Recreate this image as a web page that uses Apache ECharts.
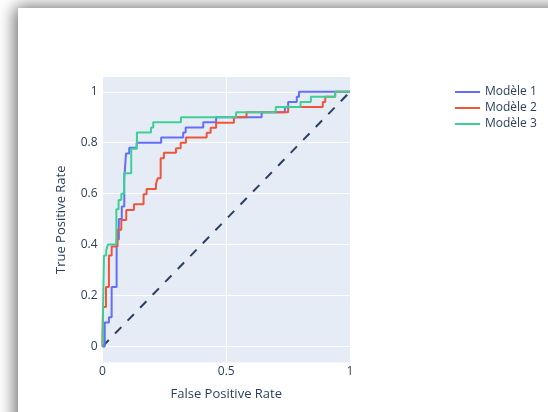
<!DOCTYPE html>
<html>
<head>
<meta charset="utf-8">
<script src="https://cdn.jsdelivr.net/npm/echarts@6/dist/echarts.min.js"></script>
<style>
html,body{margin:0;padding:0;width:548px;height:412px;overflow:hidden;background:#ffffff;}
#card{position:absolute;left:18px;top:8px;width:560px;height:440px;background:#fff;box-shadow:-3px -1px 16px rgba(0,0,0,0.6);}
#chart{position:absolute;left:0;top:0;width:548px;height:412px;}
</style>
</head>
<body>
<div id="card"></div>
<div id="chart"></div>
<script>
const seriesNames = ['Modèle 1', 'Modèle 2', 'Modèle 3'];
const xTicks = [0, 0.5, 1];
const yTicks = [0, 0.2, 0.4, 0.6, 0.8, 1];

const fpr1 = [0,0.009,0.009,0.026,0.026,0.037,0.037,0.057,0.057,0.066,0.066,0.078,0.078,0.088,0.088,0.095,0.095,0.108,0.108,0.138,0.138,0.237,0.237,0.326,0.326,0.336,0.336,0.407,0.407,0.459,0.459,0.643,0.643,0.737,0.737,0.75,0.75,0.785,0.785,0.794,0.794,1];
const tpr1 = [0,0,0.094,0.094,0.115,0.115,0.233,0.233,0.42,0.42,0.50,0.50,0.55,0.55,0.66,0.66,0.758,0.758,0.78,0.78,0.80,0.80,0.82,0.82,0.84,0.84,0.86,0.86,0.88,0.88,0.90,0.90,0.92,0.92,0.94,0.94,0.96,0.96,0.98,0.98,1,1];

const fpr2 = [0,0.002,0.002,0.014,0.014,0.026,0.026,0.037,0.037,0.061,0.061,0.076,0.076,0.096,0.096,0.127,0.127,0.166,0.166,0.178,0.178,0.216,0.216,0.223,0.223,0.235,0.235,0.248,0.248,0.297,0.297,0.316,0.316,0.337,0.337,0.421,0.421,0.437,0.437,0.459,0.459,0.531,0.531,0.582,0.582,0.75,0.75,0.89,0.89,0.90,0.90,0.94,0.94,1];
const tpr2 = [0,0,0.155,0.155,0.233,0.233,0.357,0.357,0.392,0.392,0.458,0.458,0.497,0.497,0.536,0.536,0.558,0.558,0.598,0.598,0.618,0.618,0.638,0.638,0.66,0.66,0.739,0.739,0.761,0.761,0.778,0.778,0.80,0.80,0.82,0.82,0.839,0.839,0.859,0.859,0.878,0.878,0.90,0.90,0.92,0.92,0.94,0.94,0.96,0.96,0.98,0.98,1,1];

const fpr3 = [0,0,0.006,0.006,0.015,0.015,0.022,0.022,0.056,0.056,0.065,0.065,0.076,0.076,0.087,0.087,0.116,0.116,0.139,0.139,0.196,0.196,0.205,0.205,0.317,0.317,0.54,0.54,0.70,0.70,0.80,0.80,0.842,0.842,0.94,0.94,1];
const tpr3 = [0,0.04,0.04,0.357,0.357,0.378,0.378,0.40,0.40,0.539,0.539,0.575,0.575,0.60,0.60,0.68,0.68,0.776,0.776,0.84,0.84,0.86,0.86,0.88,0.88,0.90,0.90,0.92,0.92,0.94,0.94,0.96,0.96,0.98,0.98,1,1];

const diagX = [0, 1];
const diagY = [0, 1];

const zip = (a, b) => a.map((v, i) => [v, b[i]]);
const colors = ['#636efa', '#EF553B', '#3fcf95'];
const font = 'Open Sans, Noto Sans, sans-serif';
const txt = '#2a3f5f';

const chart = echarts.init(document.getElementById('chart'), null, {renderer: 'canvas'});
chart.setOption({
  backgroundColor: 'transparent',
  animation: false,
  textStyle: {fontFamily: font, color: txt},
  grid: {left: 102.5, right: 198, top: 77, bottom: 49.5, show: true, backgroundColor: '#E5ECF6', borderWidth: 0, containLabel: false},
  legend: {
    orient: 'vertical', left: 454, top: 85, padding: 0,
    itemWidth: 25, itemHeight: 14, itemGap: 2,
    itemStyle: {opacity: 0},
    textStyle: {fontFamily: font, fontSize: 12, color: txt, lineHeight: 14},
    data: seriesNames
  },
  xAxis: {
    type: 'value', min: 0, max: 1,
    name: 'False Positive Rate', nameLocation: 'middle', nameGap: 25,
    nameTextStyle: {fontFamily: font, fontSize: 13, color: txt},
    axisLine: {show: false, onZero: false},
    axisTick: {show: false, customValues: xTicks},
    axisLabel: {customValues: xTicks, fontFamily: font, fontSize: 12, color: txt, margin: 3, formatter: v => String(v)},
    splitLine: {show: true, lineStyle: {color: '#ffffff', width: 1}}
  },
  yAxis: {
    type: 'value', min: -0.063, max: 1.058,
    name: 'True Positive Rate', nameLocation: 'middle', nameGap: 35,
    nameTextStyle: {fontFamily: font, fontSize: 13, color: txt},
    axisLine: {show: false, onZero: false},
    axisTick: {show: false, customValues: yTicks},
    axisLabel: {customValues: yTicks, fontFamily: font, fontSize: 12, color: txt, margin: 5, formatter: v => String(v)},
    splitLine: {show: true, lineStyle: {color: '#ffffff', width: 1}}
  },
  series: [
    {name: seriesNames[0], type: 'line', data: zip(fpr1, tpr1), symbol: 'none', lineStyle: {color: colors[0], width: 2}, itemStyle: {color: colors[0]}},
    {name: seriesNames[1], type: 'line', data: zip(fpr2, tpr2), symbol: 'none', lineStyle: {color: colors[1], width: 2}, itemStyle: {color: colors[1]}},
    {name: seriesNames[2], type: 'line', data: zip(fpr3, tpr3), symbol: 'none', lineStyle: {color: colors[2], width: 2}, itemStyle: {color: colors[2]}},
    {name: 'diag', type: 'line', data: zip(diagX, diagY), symbol: 'none', lineStyle: {color: '#2a3f5f', width: 2, type: [9, 9]}, z: 1}
  ]
});
</script>
</body>
</html>
